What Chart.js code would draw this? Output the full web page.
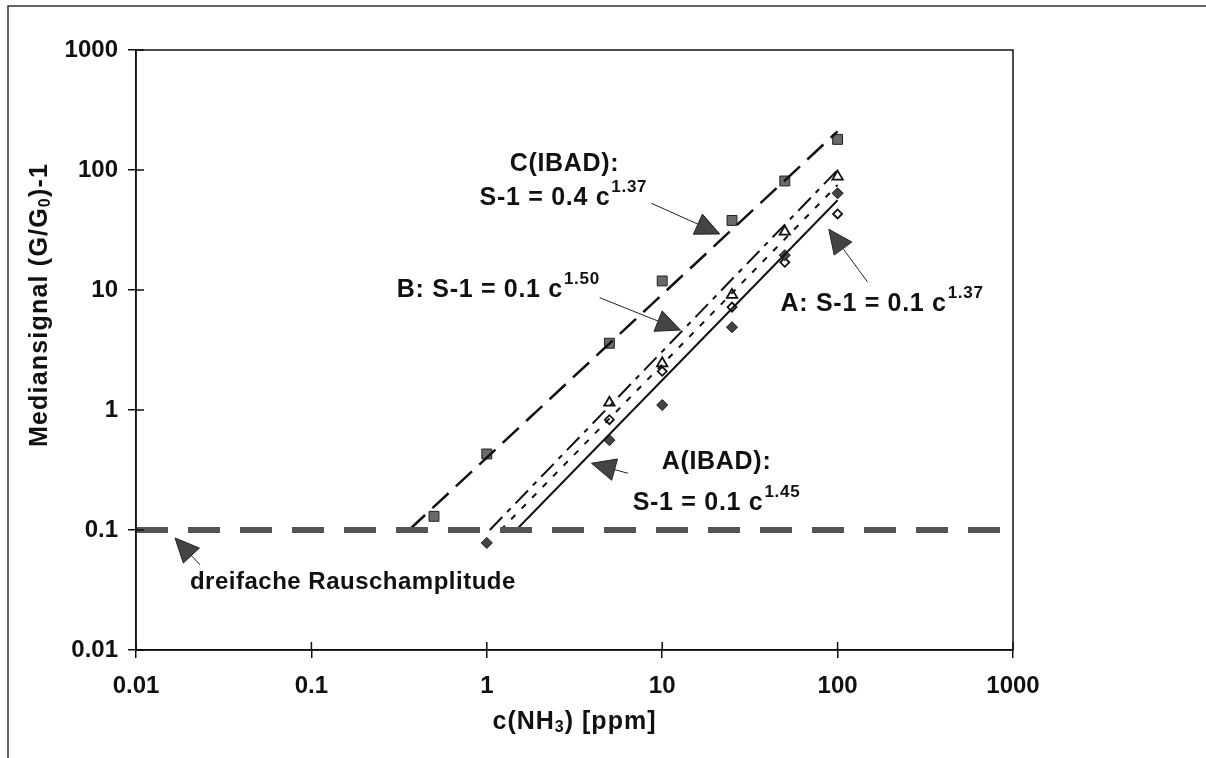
<!DOCTYPE html>
<html>
<head>
<meta charset="utf-8">
<script src="https://cdn.jsdelivr.net/npm/chart.js@4.4.1/dist/chart.umd.min.js"></script>
<style>
  html, body { margin: 0; background: #fff; }
  #wrap { width: 1206px; height: 758px; }
</style>
</head>
<body>
<div id="wrap"><canvas id="myChart" width="1206" height="758"></canvas></div>
<script>
// Achsen
const xTicks = [0.01, 0.1, 1, 10, 100, 1000]
const yTicks = [0.01, 0.1, 1, 10, 100, 1000]
const xTitle = ['c(NH', '3', ') [ppm]']
const yTitle = ['Mediansignal (G/G', '0', ')-1']

// Messwerte (c in ppm, Mediansignal)
// C(IBAD) - gefuellte Quadrate
const concC = [0.5, 1, 5, 10, 25, 50, 100]
const signalC = [0.13, 0.43, 3.6, 11.9, 38, 81, 180]
// B - offene Dreiecke
const concB = [5, 10, 25, 50, 100]
const signalB = [1.15, 2.45, 9.1, 30.6, 88]
// A - gefuellte Rauten
const concA = [1, 5, 10, 25, 50, 100]
const signalA = [0.078, 0.56, 1.1, 4.9, 19.5, 64]
// A(IBAD) - offene Rauten
const concAI = [5, 10, 25, 50, 100]
const signalAI = [0.83, 2.1, 7.2, 17, 43]

// Fitgeraden (Anfang / Ende)
const fitCx = [0.36, 100], fitCy = [0.1, 210]
const fitBx = [1.04, 100], fitBy = [0.1, 100]
const fitAIx = [1.2, 100], fitAIy = [0.1, 75]
const fitAx = [1.47, 100], fitAy = [0.1, 56]
// dreifache Rauschamplitude
const noiseX = [0.01, 1000], noiseY = [0.1, 0.1]

// Beschriftungen im Diagramm (Datenkoordinaten)
const notes = [
  {text: 'C(IBAD):', x: 1.35, y: 112},
  {text: 'S-1 = 0.4 c', sup: '1.37', x: 0.91, y: 58.5},
  {text: 'B: S-1 = 0.1 c', sup: '1.50', x: 0.307, y: 10},
  {text: 'A: S-1 = 0.1 c', sup: '1.37', x: 47.3, y: 7.65},
  {text: 'A(IBAD):', x: 9.93, y: 0.369},
  {text: 'S-1 = 0.1 c', sup: '1.45', x: 6.79, y: 0.168},
  {text: 'dreifache Rauschamplitude', x: 0.0203, y: 0.0369, small: true}
]
const arrows = [
  {from: [8.67, 52.8], to: [21.3, 29.3]},
  {from: [4.40, 8.63], to: [12.7, 4.64]},
  {from: [148, 11.7], to: [89.1, 32.1]},
  {from: [6.38, 0.297], to: [3.95, 0.36]},
  {from: [0.0232, 0.0511], to: [0.0167, 0.0858]}
]

const FONT = "'Liberation Sans', Arial, sans-serif"
const pts = (xs, ys) => xs.map((x, i) => ({x: x, y: ys[i]}))

const line = (xs, ys, dash, width) => ({
  data: pts(xs, ys), showLine: true, borderColor: '#111', borderWidth: width,
  borderDash: dash, pointRadius: 0, fill: false
})

// Text mit tiefgestelltem Teil, zentriert um (0,0)
function subText(ctx, parts, size) {
  ctx.font = 'bold ' + size + 'px ' + FONT
  const w0 = ctx.measureText(parts[0]).width
  const w2 = ctx.measureText(parts[2]).width
  ctx.font = 'bold ' + Math.round(size * 0.62) + 'px ' + FONT
  const w1 = ctx.measureText(parts[1]).width
  let x = -(w0 + w1 + w2) / 2
  ctx.font = 'bold ' + size + 'px ' + FONT
  ctx.fillText(parts[0], x, 0)
  x += w0
  ctx.font = 'bold ' + Math.round(size * 0.62) + 'px ' + FONT
  ctx.fillText(parts[1], x, 6)
  x += w1
  ctx.font = 'bold ' + size + 'px ' + FONT
  ctx.fillText(parts[2], x, 0)
}

const annotations = {
  id: 'annotations',
  beforeDraw(chart) {
    const ctx = chart.ctx
    ctx.save()
    ctx.strokeStyle = '#333'
    ctx.lineWidth = 1.5
    ctx.beginPath()
    ctx.moveTo(8, 758)
    ctx.lineTo(8, 6)
    ctx.lineTo(1206, 6)
    ctx.stroke()
    ctx.restore()
  },
  afterDraw(chart) {
    const ctx = chart.ctx
    const xs = chart.scales.x, ys = chart.scales.y
    const a = chart.chartArea
    ctx.save()
    // Rahmen
    ctx.strokeStyle = '#111'
    ctx.lineWidth = 1.5
    ctx.strokeRect(a.left, a.top, a.right - a.left, a.bottom - a.top)
    // innere Teilstriche
    ctx.beginPath()
    xTicks.forEach(v => {
      const p = xs.getPixelForValue(v)
      ctx.moveTo(p, a.bottom); ctx.lineTo(p, a.bottom - 8)
    })
    yTicks.forEach(v => {
      const p = ys.getPixelForValue(v)
      ctx.moveTo(a.left, p); ctx.lineTo(a.left + 8, p)
    })
    ctx.stroke()

    // Pfeile
    arrows.forEach(ar => {
      const x0 = xs.getPixelForValue(ar.from[0]), y0 = ys.getPixelForValue(ar.from[1])
      const x1 = xs.getPixelForValue(ar.to[0]), y1 = ys.getPixelForValue(ar.to[1])
      const len = Math.hypot(x1 - x0, y1 - y0)
      const ux = (x1 - x0) / len, uy = (y1 - y0) / len
      const bx = x1 - ux * 24, by = y1 - uy * 24
      ctx.strokeStyle = '#222'
      ctx.lineWidth = 1
      ctx.beginPath()
      ctx.moveTo(x0, y0); ctx.lineTo(bx, by)
      ctx.stroke()
      ctx.fillStyle = '#444'
      ctx.beginPath()
      ctx.moveTo(x1, y1)
      ctx.lineTo(bx - uy * 11, by + ux * 11)
      ctx.lineTo(bx + uy * 11, by - ux * 11)
      ctx.closePath()
      ctx.fill()
      ctx.stroke()
    })

    // Texte
    ctx.fillStyle = '#111'
    ctx.textBaseline = 'middle'
    ctx.textAlign = 'left'
    notes.forEach(n => {
      const px = xs.getPixelForValue(n.x), py = ys.getPixelForValue(n.y)
      ctx.letterSpacing = n.small ? '0.5px' : '0.7px'
      ctx.font = 'bold ' + (n.small ? 24 : 25) + 'px ' + FONT
      ctx.fillText(n.text, px, py)
      if (n.sup) {
        const w = ctx.measureText(n.text).width
        ctx.font = 'bold 17px ' + FONT
        ctx.fillText(n.sup, px + w + 1, py - 11)
      }
    })

    // Achsentitel
    ctx.letterSpacing = '1px'
    ctx.save()
    ctx.translate((a.left + a.right) / 2, 722)
    subText(ctx, xTitle, 25)
    ctx.restore()
    ctx.letterSpacing = '1.2px'
    ctx.save()
    ctx.translate(40, ys.getPixelForValue(7.5))
    ctx.rotate(-Math.PI / 2)
    subText(ctx, yTitle, 25)
    ctx.restore()
    ctx.restore()
  }
}

const tickFont = {family: FONT, size: 24, weight: 'bold'}

new Chart(document.getElementById('myChart').getContext('2d'), {
  type: 'scatter',
  data: {
    datasets: [
      {data: pts(noiseX, noiseY), showLine: true, borderColor: '#555', borderWidth: 6,
        borderDash: [32, 20], pointRadius: 0, borderCapStyle: 'butt'},
      line(fitCx, fitCy, [22, 10], 2.5),
      line(fitBx, fitBy, [18, 7, 5, 7], 2),
      line(fitAIx, fitAIy, [6, 9], 2),
      line(fitAx, fitAy, [], 2),
      {data: pts(concC, signalC), pointStyle: 'rect', pointRadius: 7,
        backgroundColor: '#6a6a6a', borderColor: '#222', borderWidth: 1},
      {data: pts(concB, signalB), pointStyle: 'triangle', pointRadius: 6,
        backgroundColor: '#fff', borderColor: '#111', borderWidth: 1.8},
      {data: pts(concA, signalA), pointStyle: 'rectRot', pointRadius: 5.5,
        backgroundColor: '#444', borderColor: '#111', borderWidth: 1},
      {data: pts(concAI, signalAI), pointStyle: 'rectRot', pointRadius: 4.5,
        backgroundColor: '#fff', borderColor: '#111', borderWidth: 1.8}
    ]
  },
  options: {
    responsive: false,
    animation: false,
    layout: {padding: {left: 0, right: 193, top: 50, bottom: 0}},
    plugins: {legend: {display: false}, tooltip: {enabled: false}},
    scales: {
      x: {
        type: 'logarithmic', min: 0.01, max: 1000,
        afterBuildTicks: s => { s.ticks = xTicks.map(v => ({value: v})) },
        afterFit: s => { s.height = 108 },
        ticks: {callback: v => String(v), font: tickFont, color: '#111', padding: 14, maxRotation: 0},
        grid: {drawOnChartArea: false, tickLength: 8, color: '#111', lineWidth: 1.5},
        border: {color: '#111', width: 1.5}
      },
      y: {
        type: 'logarithmic', min: 0.01, max: 1000,
        afterBuildTicks: s => { s.ticks = yTicks.map(v => ({value: v})) },
        afterFit: s => { s.width = 136 },
        ticks: {callback: v => String(v), font: tickFont, color: '#111', padding: 10},
        grid: {drawOnChartArea: false, tickLength: 8, color: '#111', lineWidth: 1.5},
        border: {color: '#111', width: 1.5}
      }
    }
  },
  plugins: [annotations]
})
</script>
</body>
</html>
